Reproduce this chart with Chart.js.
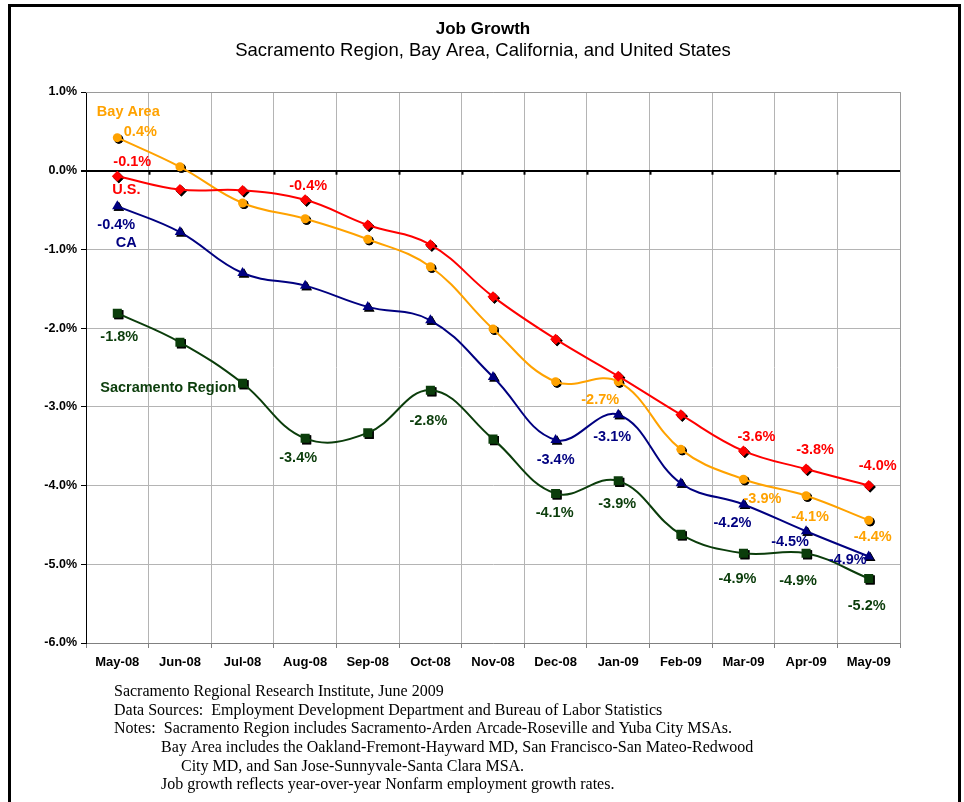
<!DOCTYPE html>
<html>
<head>
<meta charset="utf-8">
<script src="https://cdn.jsdelivr.net/npm/chart.js@4/dist/chart.umd.min.js"></script>
<style>
  html, body { margin: 0; padding: 0; background: #fff; }
  #wrap { width: 964px; height: 802px; position: relative; }
</style>
</head>
<body>
<div id="wrap"><canvas id="jobChart" width="964" height="802"></canvas></div>
<script>
const months = ['May-08', 'Jun-08', 'Jul-08', 'Aug-08', 'Sep-08', 'Oct-08', 'Nov-08',
  'Dec-08', 'Jan-09', 'Feb-09', 'Mar-09', 'Apr-09', 'May-09'];

// year-over-year job growth, percent
const usGrowth = [-0.07, -0.24, -0.25, -0.37, -0.69, -0.94, -1.60, -2.14, -2.61, -3.10, -3.56, -3.79, -4.00];
const bayAreaGrowth = [0.42, 0.05, -0.41, -0.61, -0.87, -1.22, -2.01, -2.68, -2.68, -3.54, -3.92, -4.13, -4.44];
const caGrowth = [-0.45, -0.78, -1.30, -1.46, -1.73, -1.90, -2.62, -3.42, -3.10, -3.97, -4.24, -4.58, -4.90];
const sacGrowth = [-1.81, -2.18, -2.70, -3.40, -3.33, -2.79, -3.41, -4.10, -3.94, -4.62, -4.86, -4.86, -5.18];

// value labels shown on the chart ('' = no label)
const usLabels = ['-0.1%', '', '', '-0.4%', '', '', '', '', '', '', '-3.6%', '-3.8%', '-4.0%'];
const bayLabels = ['0.4%', '', '', '', '', '', '', '', '-2.7%', '', '-3.9%', '-4.1%', '-4.4%'];
const caLabels = ['-0.4%', '', '', '', '', '', '', '-3.4%', '-3.1%', '', '-4.2%', '-4.5%', '-4.9%'];
const sacLabels = ['-1.8%', '', '', '-3.4%', '', '-2.8%', '', '-4.1%', '-3.9%', '', '-4.9%', '-4.9%', '-5.2%'];

const yTicks = [1, 0, -1, -2, -3, -4, -5, -6];

const footNotes = [
  'Sacramento Regional Research Institute, June 2009',
  'Data Sources:  Employment Development Department and Bureau of Labor Statistics',
  'Notes:  Sacramento Region includes Sacramento-Arden Arcade-Roseville and Yuba City MSAs.',
  'Bay Area includes the Oakland-Fremont-Hayward MD, San Francisco-San Mateo-Redwood',
  'City MD, and San Jose-Sunnyvale-Santa Clara MSA.',
  'Job growth reflects year-over-year Nonfarm employment growth rates.'
];

const RED = '#ff0000', ORANGE = '#ffa200', NAVY = '#000080', GREEN = '#0b3d0b';

// label placement: offset of text centre from the point
const labelOffsets = {
  0: { 0: [15, -14], 3: [3, -14], 10: [13, -14], 11: [9, -19], 12: [9, -20] },
  1: { 0: [23, -6], 8: [-18, 18], 10: [19, 20], 11: [4, 21], 12: [4, 17] },
  2: { 0: [-1, 19], 7: [0, 20], 8: [-6, 22], 10: [-11, 19], 11: [-16, 11], 12: [-21, 4] },
  3: { 0: [2, 24], 3: [-7, 20], 5: [-2, 31], 7: [-1, 20], 8: [-1, 23], 10: [-6, 26], 11: [-8, 28], 12: [-2, 28] }
};
const seriesNames = [
  { ds: 0, text: 'U.S.', dx: 9, dy: 14 },
  { ds: 1, text: 'Bay Area', dx: 11, dy: -26 },
  { ds: 2, text: 'CA', dx: 9, dy: 37 },
  { ds: 3, text: 'Sacramento Region', dx: 51, dy: 75 }
];

const frameAndText = {
  id: 'frameAndText',
  beforeDraw(chart) {
    const c = chart.ctx;
    c.save();
    c.fillStyle = '#fff';
    c.fillRect(0, 0, chart.width, chart.height);
    c.strokeStyle = '#000';
    c.lineWidth = 3;
    c.beginPath();
    c.moveTo(9.5, 802);
    c.lineTo(9.5, 5.5);
    c.lineTo(959.5, 5.5);
    c.lineTo(959.5, 802);
    c.stroke();
    c.fillStyle = '#000';
    c.textAlign = 'center';
    c.textBaseline = 'middle';
    c.font = 'bold 17px "Liberation Sans", Arial, sans-serif';
    c.fillText('Job Growth', 483, 29);
    c.font = '18.5px "Liberation Sans", Arial, sans-serif';
    c.fillText('Sacramento Region, Bay Area, California, and United States', 483, 51);
    c.textAlign = 'left';
    c.font = '16px "Liberation Serif", "Times New Roman", serif';
    const xs = [114, 114, 114, 161, 181, 161];
    const ys = [692, 711, 729, 748, 767, 785];
    footNotes.forEach((t, i) => c.fillText(t, xs[i], ys[i]));
    c.restore();
  },
  beforeDatasetsDraw(chart) {
    // drop shadows under markers
    const c = chart.ctx;
    c.save();
    chart.data.datasets.forEach((ds, i) => {
      const meta = chart.getDatasetMeta(i);
      meta.data.forEach(pt => {
        Chart.helpers.drawPoint(c, {
          pointStyle: ds.pointStyle, radius: ds.pointRadius, rotation: 0, borderWidth: 0
        }, pt.x + 1.5, pt.y + 1.5);
        c.fillStyle = '#000';
        c.fill();
      });
    });
    c.restore();
  },
  afterDatasetsDraw(chart) {
    const c = chart.ctx;
    c.save();
    c.textAlign = 'center';
    c.textBaseline = 'middle';
    c.font = 'bold 14.5px "Liberation Sans", Arial, sans-serif';
    chart.data.datasets.forEach((ds, i) => {
      const meta = chart.getDatasetMeta(i);
      c.fillStyle = ds.borderColor;
      ds.valueLabels.forEach((txt, j) => {
        if (!txt) return;
        const off = labelOffsets[i][j] || [0, -15];
        const pt = meta.data[j];
        c.fillText(txt, pt.x + off[0], pt.y + off[1]);
      });
    });
    seriesNames.forEach(s => {
      const pt = chart.getDatasetMeta(s.ds).data[0];
      c.fillStyle = chart.data.datasets[s.ds].borderColor;
      c.fillText(s.text, pt.x + s.dx, pt.y + s.dy);
    });
    c.restore();
  },
  afterDraw(chart) {
    // plot frame on top and right
    const a = chart.chartArea;
    const c = chart.ctx;
    c.save();
    c.strokeStyle = '#9a9a9a';
    c.lineWidth = 1;
    c.beginPath();
    c.moveTo(a.left, a.top + 0.5);
    c.lineTo(a.right + 0.5, a.top + 0.5);
    c.lineTo(a.right + 0.5, a.bottom);
    c.stroke();
    // small ticks on the zero line
    const y0 = chart.scales.y.getPixelForValue(0);
    c.strokeStyle = '#000';
    c.lineWidth = 2;
    const step = (a.right - a.left) / months.length;
    for (let k = 1; k < months.length; k++) {
      const x = Math.round(a.left + step * k) + 0.5;
      c.beginPath();
      c.moveTo(x, y0);
      c.lineTo(x, y0 + 4);
      c.stroke();
    }
    c.restore();
  }
};

function series(label, data, labels, color, style, radius) {
  return {
    label, data, valueLabels: labels,
    borderColor: color, backgroundColor: color,
    borderWidth: 2, tension: 0.4,
    pointStyle: style, pointRadius: radius, pointHoverRadius: radius,
    pointBorderWidth: 0, pointBackgroundColor: color
  };
}

new Chart(document.getElementById('jobChart'), {
  type: 'line',
  data: {
    labels: months,
    datasets: [
      series('U.S.', usGrowth, usLabels, RED, 'rectRot', 5.5),
      series('Bay Area', bayAreaGrowth, bayLabels, ORANGE, 'circle', 4.5),
      series('CA', caGrowth, caLabels, NAVY, 'triangle', 6),
      series('Sacramento Region', sacGrowth, sacLabels, GREEN, 'rect', 6.4)
    ]
  },
  options: {
    responsive: false,
    animation: false,
    layout: { padding: { left: 0, right: 64, top: 92, bottom: 0 } },
    plugins: {
      legend: { display: false },
      title: { display: false },
      tooltip: { enabled: false }
    },
    scales: {
      x: {
        offset: true,
        grid: { offset: true, color: '#b4b4b4', tickColor: '#808080', tickLength: 5, drawOnChartArea: true },
        border: { color: '#808080', width: 1 },
        ticks: {
          color: '#000', padding: 7,
          font: { family: '"Liberation Sans Narrow", "Liberation Sans", Arial', size: 13, weight: 'bold' }
        },
        afterFit(s) { s.height = 159; }
      },
      y: {
        min: -6, max: 1,
        afterBuildTicks(s) { s.ticks = yTicks.map(v => ({ value: v })); },
        grid: {
          color: ctx => ctx.tick && ctx.tick.value === 0 ? '#000' : '#b4b4b4',
          lineWidth: ctx => ctx.tick && ctx.tick.value === 0 ? 2 : 1,
          tickColor: '#000', tickLength: 5
        },
        border: { color: '#000', width: 1 },
        ticks: {
          color: '#000', padding: 4,
          font: { family: '"Liberation Sans", Arial', size: 12.5, weight: 'bold' },
          callback: v => v.toFixed(1) + '%'
        },
        afterFit(s) { s.width = 86; }
      }
    }
  },
  plugins: [frameAndText]
});
</script>
</body>
</html>
